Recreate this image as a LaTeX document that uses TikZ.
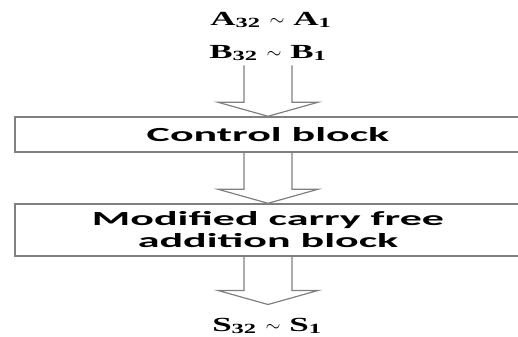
\documentclass[tikz,border=0pt]{standalone}
\usepackage{fontspec}
\usepackage{tikz}
\usetikzlibrary{calc}
\newfontfamily\blockfont[FakeStretch=2.2]{Carlito}
\newfontfamily\sigfont[FakeStretch=1.75]{Liberation Serif}

% hollow block arrow: #1 = start of shaft, #2 = tip
\newcommand{\hollowarrow}[2]{%
  \draw[hollow] let \p1=(#1), \p2=(#2) in
    (\x2-18pt,\y1) -- (\x2-18pt,\y2+10.5pt) -- (\x2-37.5pt,\y2+10.5pt)
    -- (\x2,\y2) -- (\x2+37.5pt,\y2+10.5pt) -- (\x2+18pt,\y2+10.5pt)
    -- (\x2+18pt,\y1);}

\begin{document}
\begin{tikzpicture}[
    x=0.75pt, y=-0.75pt,
    sig/.style={font=\sigfont\bfseries\fontsize{15}{17}\selectfont,anchor=base,inner sep=3pt},
    block/.style={draw=black!50,line width=1.1pt,minimum width=379.5pt,inner sep=0pt,
        align=center,font=\blockfont\bfseries\fontsize{15}{16.5}\selectfont},
    hollow/.style={draw=black!50,line width=0.9pt,line join=miter}
]
\useasboundingbox (0,0) rectangle (518,336);
\clip (0,0) rectangle (518,336);

\node[sig] (ina) at (271,25) {A\textsubscript{32} $\sim$ A\textsubscript{1}};
\node[sig] (inb) at (268,58) {B\textsubscript{32} $\sim$ B\textsubscript{1}};
\node[block,minimum height=26.25pt] (ctrl) at (268,134.5) {Control block};
\node[block,minimum height=39pt] (cfa) at (268,230)
    {Modified carry free\\addition block};
\node[sig] (out) at (267,331) {S\textsubscript{32} $\sim$ S\textsubscript{1}};

\hollowarrow{ctrl.north |- inb.south}{ctrl.north}
\hollowarrow{ctrl.south}{cfa.north}
\hollowarrow{cfa.south}{$(cfa.south |- out.north)+(0,-9)$}
\end{tikzpicture}
\end{document}
